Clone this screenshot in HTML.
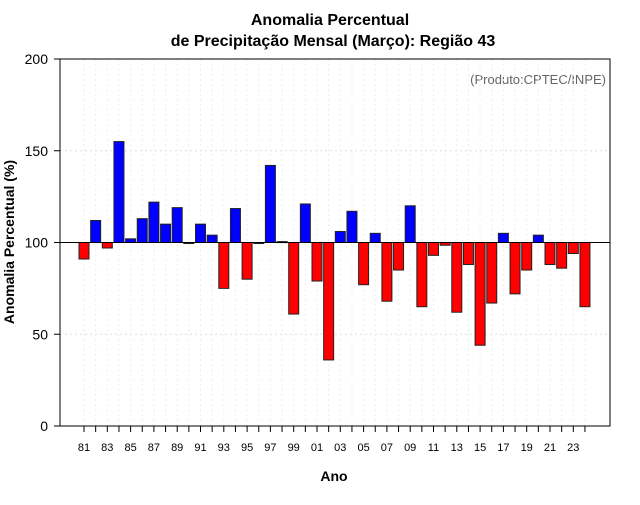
<!DOCTYPE html>
<html><head><meta charset="utf-8"><style>
body{margin:0;background:#fff;}
svg text{font-family:"Liberation Sans",sans-serif;}
</style></head><body>
<svg id="c" width="640" height="500" xmlns="http://www.w3.org/2000/svg">
<text x="330" y="25" text-anchor="middle" font-size="16" font-weight="bold">Anomalia Percentual</text>
<text x="333" y="46" text-anchor="middle" font-size="16" font-weight="bold">de Precipitação Mensal (Março): Região 43</text>
<text x="606" y="84" text-anchor="end" font-size="13" fill="#666">(Produto:CPTEC/INPE)</text>
<text x="334" y="481" text-anchor="middle" font-size="14" font-weight="bold">Ano</text>
<text transform="translate(14,242) rotate(-90)" text-anchor="middle" font-size="14" font-weight="bold">Anomalia Percentual (%)</text>
<g id="grid"></g><g id="bars"></g><g id="axes"></g>
</svg>
<script>
const years=[81,82,83,84,85,86,87,88,89,90,91,92,93,94,95,96,97,98,99,0,1,2,3,4,5,6,7,8,9,10,11,12,13,14,15,16,17,18,19,20,21,22,23,24];
const values=[91,112,97,155,102,113,122,110,119,99.5,110,104,75,118.5,80,99.5,142,100.5,61,121,79,36,106,117,77,105,68,85,120,65,93,98.5,62,88,44,67,105,72,85,104,88,86,94,65];
const yTicks=[0,50,100,150,200];
const NS="http://www.w3.org/2000/svg";
const L=60,R=610,T=59,B=426;
const y=v=>B-(v/200)*(B-T);
const x=i=>84+i*11.65;
function mk(tag,attrs,parent,text){const e=document.createElementNS(NS,tag);for(const k in attrs)e.setAttribute(k,attrs[k]);if(text!==undefined)e.textContent=text;parent.appendChild(e);return e;}
const grid=document.getElementById('grid'),bars=document.getElementById('bars'),axes=document.getElementById('axes');
yTicks.forEach(t=>{
 if(t>0&&t<200){const g=mk('line',{x1:L,x2:R,y1:y(t),y2:y(t),stroke:'#ddd','stroke-dasharray':'2,3'},grid);
 
 }
 const tk=mk('line',{x1:L-6,x2:L,y1:y(t),y2:y(t),stroke:'#000'},axes);
 
 
 const lb=mk('text',{x:L-12,y:y(t)+5,'text-anchor':'end','font-size':14},axes,String(t));
 
 
});
years.forEach((yr,i)=>{
 const gl=mk('line',{x1:x(i),x2:x(i),y1:T,y2:B,stroke:'#eee','stroke-dasharray':'2,3'},grid);
 
 
 const v=values[i];
 const r=mk('rect',{x:x(i)-5,y:Math.min(y(v),y(100)),width:10,height:Math.max(Math.abs(y(v)-y(100)),1),fill:v>=100?'#0000ff':'#ff0000',stroke:'#222','stroke-width':1},bars);
 
 
 const tk=mk('line',{x1:x(i),x2:x(i),y1:B,y2:B+6,stroke:'#000'},axes);
 
 
 if(i%2===0){const lb=mk('text',{x:x(i),y:B+25,'text-anchor':'middle','font-size':11},axes,String(yr).padStart(2,'0'));
 
 }
});
const base=mk('line',{x1:L,x2:R,y1:y(100),y2:y(100),stroke:'#000'},axes);


const fr=mk('rect',{x:L,y:T,width:R-L,height:B-T,fill:'none',stroke:'#000'},axes);


</script>
</body></html>
